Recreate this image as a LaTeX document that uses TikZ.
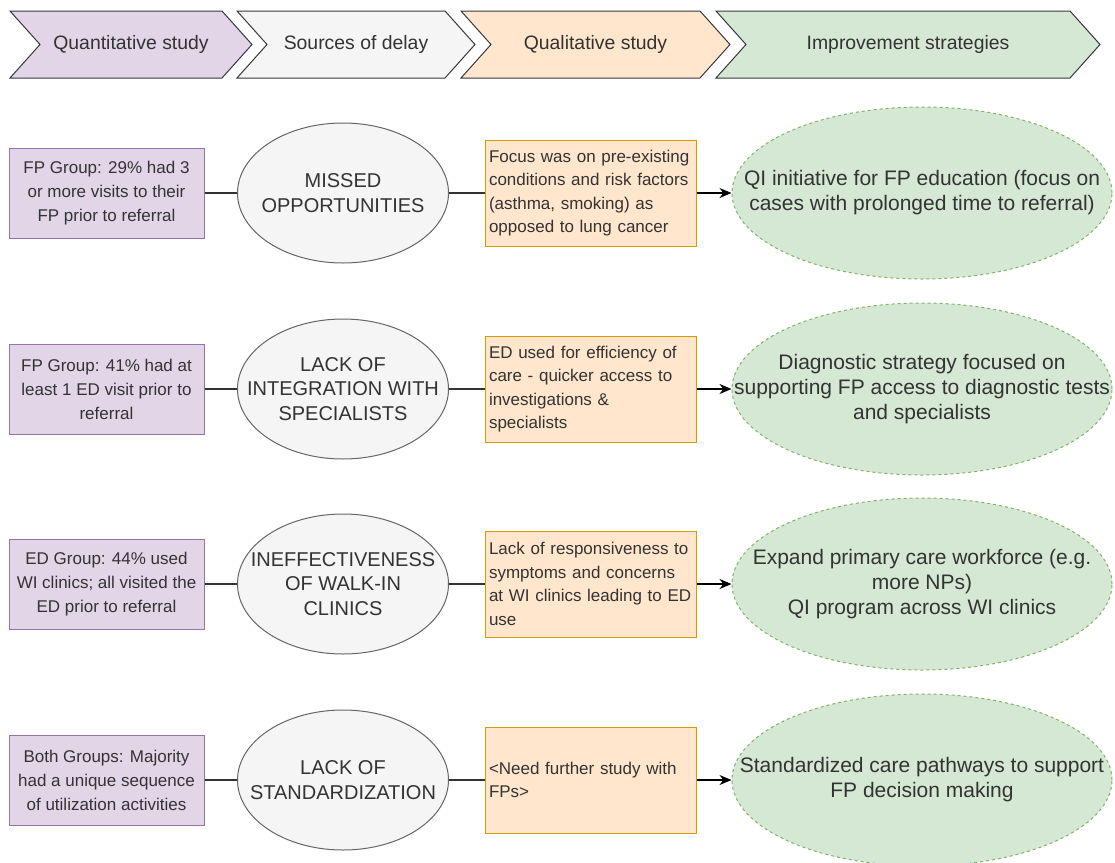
\documentclass[tikz,border=0pt]{standalone}
\usepackage{fontspec}
\setmainfont{Liberation Sans}
\usetikzlibrary{shapes.geometric,arrows.meta}
\definecolor{purfill}{HTML}{E1D5E7}
\definecolor{purline}{HTML}{9673A6}
\definecolor{grayfill}{HTML}{F5F5F5}
\definecolor{grayline}{HTML}{666666}
\definecolor{orfill}{HTML}{FFE6CC}
\definecolor{orline}{HTML}{D79B00}
\definecolor{grfill}{HTML}{D5E8D4}
\definecolor{grline}{HTML}{82B366}
\definecolor{txt}{HTML}{333333}
\definecolor{chevline}{HTML}{36393D}
\newcommand\mychev[5]{%
  \draw[chevpath, fill=#3] (#1,11) -- (#2,11) -- ({#2+30},44.5) -- (#2,78) -- (#1,78) -- ({#1+30},44.5) -- cycle;
  \node[chevtext] (#4) at ({(#1+#2)/2+15},44.5) {#5};
}
\begin{document}
\begin{tikzpicture}[x=1pt,y=-1pt,
  chevpath/.style={draw=chevline, line width=1pt},
  chevtext/.style={text=txt, font=\fontsize{19.4}{23}\selectfont, inner sep=0pt},
  purbox/.style={draw=purline, fill=purfill, line width=1pt, minimum width=195pt, minimum height=90pt, inner sep=0pt, align=center, text=txt, font=\fontsize{17}{24}\selectfont},
  grayell/.style={ellipse, draw=grayline, fill=grayfill, line width=1pt, minimum width=211pt, minimum height=140pt, inner sep=0pt},
  graytext/.style={align=center, text=txt, inner sep=0pt, font=\fontsize{20}{24.5}\selectfont},
  orbox/.style={draw=orline, fill=orfill, line width=1pt, text width=203pt, inner sep=4pt, minimum height=106pt, align=left, text=txt, font=\fontsize{17}{23.5}\selectfont},
  grell/.style={ellipse, draw=grline, fill=grfill, line width=1pt, dash pattern=on 3pt off 3pt, minimum width=380pt, minimum height=172pt, inner sep=0pt},
  grtext/.style={align=center, text=txt, inner sep=0pt, font=\fontsize{21}{25}\selectfont},
  link/.style={draw=txt, line width=1.4pt},
  arrowlink/.style={draw=black, line width=1.4pt, -{Stealth[length=12pt,width=10pt]}}
]
\useasboundingbox (0,0) rectangle (1115,862);
\fill[white] (0,0) rectangle (1115,862);

% header chevrons
\mychev{10}{222}{purfill}{h1}{Quantitative study}
\mychev{237}{445}{grayfill}{h2}{Sources of delay}
\mychev{461}{700}{orfill}{h3}{Qualitative study}
\mychev{716}{1070}{grfill}{h4}{Improvement strategies}

% row 1
\node[purbox] (p1) at (106.5,193) {FP Group: 29\% had 3\\or more visits to their\\FP prior to referral};
\node[grayell] (e1) at (343,193) {};
\node[graytext] (e1t) at (e1) {MISSED\\OPPORTUNITIES};
\node[orbox] (o1) at (590.5,193) {Focus was on pre-existing\\conditions and risk factors\\(asthma, smoking) as\\opposed to lung cancer};
\node[grell] (g1) at (922,193) {};
\node[grtext] (g1t) at (g1) {QI initiative for FP education (focus on\\cases with prolonged time to referral)};

% row 2
\node[purbox] (p2) at (106.5,389) {FP Group: 41\% had at\\least 1 ED visit prior to\\referral};
\node[grayell] (e2) at (343,389) {};
\node[graytext] (e2t) at (e2) {LACK OF\\INTEGRATION WITH\\SPECIALISTS};
\node[orbox] (o2) at (590.5,389) {ED used for efficiency of\\care - quicker access to\\investigations \&\\specialists};
\node[grell] (g2) at (922,389) {};
\node[grtext] (g2t) at (g2) {Diagnostic strategy focused on\\supporting FP access to diagnostic tests\\and specialists};

% row 3
\node[purbox] (p3) at (106.5,584) {ED Group: 44\% used\\WI clinics; all visited the\\ED prior to referral};
\node[grayell] (e3) at (343,584) {};
\node[graytext] (e3t) at (e3) {INEFFECTIVENESS\\OF WALK-IN\\CLINICS};
\node[orbox] (o3) at (590.5,584) {Lack of responsiveness to\\symptoms and concerns\\at WI clinics leading to ED\\use};
\node[grell] (g3) at (922,584) {};
\node[grtext] (g3t) at (g3) {Expand primary care workforce (e.g.\\more NPs)\\QI program across WI clinics};

% row 4
\node[purbox] (p4) at (106.5,780) {Both Groups: Majority\\had a unique sequence\\of utilization activities};
\node[grayell] (e4) at (343,780) {};
\node[graytext] (e4t) at (e4) {LACK OF\\STANDARDIZATION};
\node[orbox] (o4) at (590.5,780) {<Need further study with\\FPs>};
\node[grell] (g4) at (922,780) {};
\node[grtext] (g4t) at (g4) {Standardized care pathways to support\\FP decision making};

% connectors
\foreach \i in {1,2,3,4}{
  \draw[link] (p\i) -- (e\i);
  \draw[link] (e\i) -- (o\i);
  \draw[arrowlink] (o\i) -- (g\i);
}
\end{tikzpicture}
\end{document}
